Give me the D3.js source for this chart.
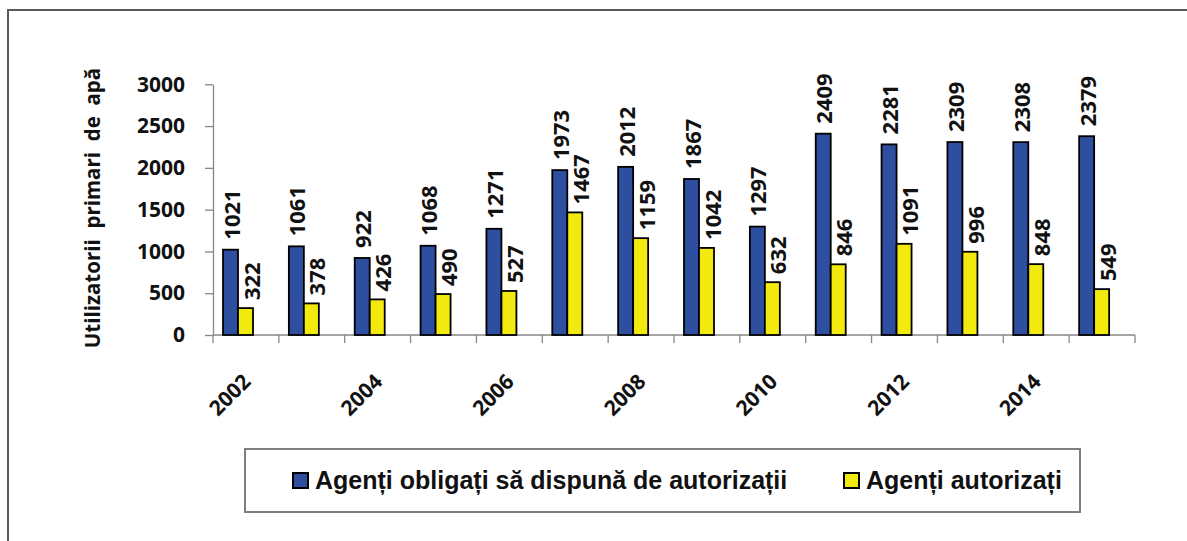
<!DOCTYPE html>
<meta charset="utf-8">
<style>

body {
  margin: 0;
  background: #fff;
}

.axis path,
.axis line {
  stroke: #878787;
  stroke-width: 1.3px;
}

.axis text {
  font-family: "Open Sans", sans-serif;
  font-weight: 700;
  font-size: 21px;
  fill: #111;
}

.value {
  font-family: "Open Sans", sans-serif;
  font-weight: 700;
  font-size: 22px;
  fill: #111;
}

.legend text {
  font-family: "Liberation Sans", Arial, sans-serif;
  font-weight: 700;
  font-size: 25px;
  fill: #111;
}

</style>
<svg></svg>
<script src="https://cdn.jsdelivr.net/npm/d3@7"></script>
<script>

var years = [2002, 2003, 2004, 2005, 2006, 2007, 2008, 2009, 2010, 2011, 2012, 2013, 2014, 2015];
var obligati = [1021, 1061, 922, 1068, 1271, 1973, 2012, 1867, 1297, 2409, 2281, 2309, 2308, 2379];
var autorizati = [322, 378, 426, 490, 527, 1467, 1159, 1042, 632, 846, 1091, 996, 848, 549];
var yearLabels = [2002, 2004, 2006, 2008, 2010, 2012, 2014];
var yTicks = [0, 500, 1000, 1500, 2000, 2500, 3000];
var seriesNames = ["Agenți obligați să dispună de autorizații", "Agenți autorizați"];
var colors = ["#2e4f9f", "#f2e90e"];

var width = 1187,
    height = 541;

var svg = d3.select("svg")
    .attr("width", width)
    .attr("height", height);

// outer frame, runs off the right/bottom edge like the original
svg.append("rect")
    .attr("x", 8)
    .attr("y", 10)
    .attr("width", 1300)
    .attr("height", 700)
    .attr("fill", "none")
    .attr("stroke", "#595959")
    .attr("stroke-width", 2);

var x = d3.scaleBand()
    .domain(years)
    .range([213, 1135]);

var y = d3.scaleLinear()
    .domain([0, 3000])
    .range([335, 84.3]);

var barW = 15;

// y axis
svg.append("g")
    .attr("class", "axis")
    .attr("transform", "translate(213,0)")
    .call(d3.axisLeft(y)
        .tickValues(yTicks)
        .tickSize(8)
        .tickPadding(20)
        .tickSizeOuter(0)
        .tickFormat(d3.format("d")));

// x axis: line plus ticks at band boundaries
var xAxis = svg.append("g").attr("class", "axis");

xAxis.append("line")
    .attr("x1", 213)
    .attr("x2", 1135)
    .attr("y1", y(0))
    .attr("y2", y(0));

xAxis.selectAll(".tick")
    .data(years.map(function(d) { return x(d); }).concat([x.range()[1]]))
  .enter().append("line")
    .attr("x1", function(d) { return d; })
    .attr("x2", function(d) { return d; })
    .attr("y1", y(0))
    .attr("y2", y(0) + 8);

xAxis.selectAll(".year")
    .data(yearLabels)
  .enter().append("text")
    .attr("text-anchor", "end")
    .attr("transform", function(d) {
      return "translate(" + (x(d) + x.bandwidth() / 2 + 6) + "," + (y(0) + 48) + ") rotate(-45)";
    })
    .text(function(d) { return d; });

// bars
var groups = svg.selectAll(".year-group")
    .data(years)
  .enter().append("g")
    .attr("transform", function(d) { return "translate(" + x(d) + ",0)"; });

groups.append("rect")
    .attr("x", 10)
    .attr("width", barW)
    .attr("y", function(d, i) { return y(obligati[i]); })
    .attr("height", function(d, i) { return y(0) - y(obligati[i]); })
    .attr("fill", colors[0])
    .attr("stroke", "#000")
    .attr("stroke-width", 1.8);

groups.append("rect")
    .attr("x", 10 + barW)
    .attr("width", barW)
    .attr("y", function(d, i) { return y(autorizati[i]); })
    .attr("height", function(d, i) { return y(0) - y(autorizati[i]); })
    .attr("fill", colors[1])
    .attr("stroke", "#000")
    .attr("stroke-width", 1.8);

groups.append("text")
    .attr("class", "value")
    .attr("transform", function(d, i) {
      return "translate(" + (10 + barW / 2 + 9) + "," + (y(obligati[i]) - 10) + ") rotate(-90)";
    })
    .text(function(d, i) { return obligati[i]; });

groups.append("text")
    .attr("class", "value")
    .attr("transform", function(d, i) {
      return "translate(" + (10 + barW * 1.5 + 14) + "," + (y(autorizati[i]) - 8) + ") rotate(-90)";
    })
    .text(function(d, i) { return autorizati[i]; });

// y title
svg.append("text")
    .attr("transform", "translate(100,208) rotate(-90)")
    .attr("text-anchor", "middle")
    .style("white-space", "pre")
    .style("font-family", "'Open Sans', sans-serif")
    .style("font-weight", 700)
    .style("font-size", "20.5px")
    .attr("fill", "#111")
    .text("Utilizatorii  primari  de  apă");

// legend
var legend = svg.append("g").attr("class", "legend");

legend.append("rect")
    .attr("x", 245)
    .attr("y", 449)
    .attr("width", 835)
    .attr("height", 63)
    .attr("fill", "#fff")
    .attr("stroke", "#7f7f7f")
    .attr("stroke-width", 2);

var legendX = [293, 844];

legend.selectAll(".item")
    .data(seriesNames)
  .enter().append("g")
    .attr("transform", function(d, i) { return "translate(" + legendX[i] + ",473)"; })
    .each(function(d, i) {
      var g = d3.select(this);
      g.append("rect")
          .attr("width", 15)
          .attr("height", 15)
          .attr("fill", colors[i])
          .attr("stroke", "#000")
          .attr("stroke-width", 2);
      g.append("text")
          .attr("x", 22)
          .attr("y", 16)
          .text(d);
    });

</script>
